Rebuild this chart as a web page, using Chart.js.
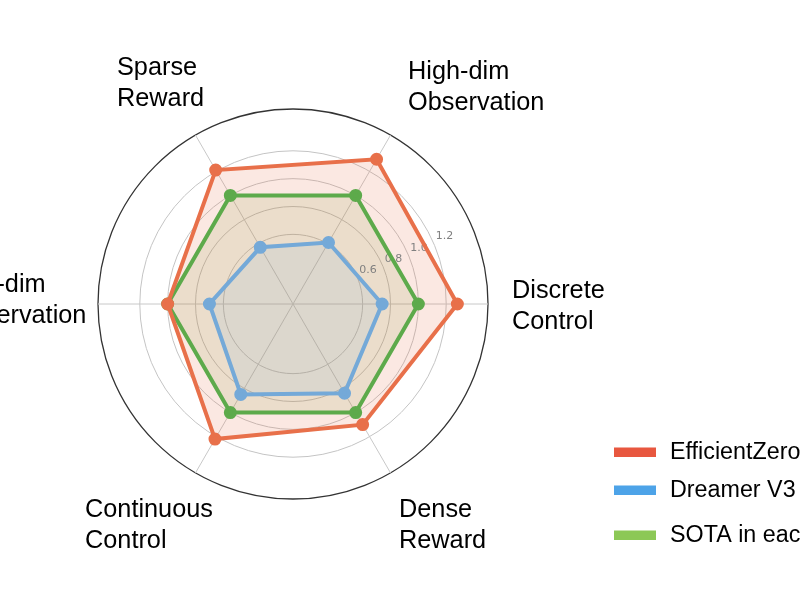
<!DOCTYPE html>
<html>
<head>
<meta charset="utf-8">
<script src="https://cdn.jsdelivr.net/npm/chart.js@4/dist/chart.umd.min.js"></script>
<style>
  html, body { margin: 0; padding: 0; background: #fff; }
  #wrap { width: 800px; height: 600px; position: relative; }
</style>
</head>
<body>
<div id="wrap"><canvas id="radar"></canvas></div>
<script>
// axes go clockwise from the right-hand side
const categories = [
  ['Discrete', 'Control'],
  ['Dense', 'Reward'],
  ['Continuous', 'Control'],
  ['Low-dim', 'Observation'],
  ['Sparse', 'Reward'],
  ['High-dim', 'Observation']
];
const efficientZeroValues = [1.28, 1.10, 1.22, 1.00, 1.21, 1.30];
const dreamerValues = [0.74, 0.84, 0.85, 0.70, 0.57, 0.61];
const sotaValues = [1.00, 1.00, 1.00, 1.00, 1.00, 1.00];
const tickValues = [0.6, 0.8, 1.0, 1.2];
const seriesNames = ['EfficientZero V2', 'Dreamer V3', 'SOTA in each domain'];

const SCALE_MIN = 0.1;
const SCALE_MAX = 1.5;

// label block placement relative to centre (left edge, vertical middle)
const labelSpots = [
  { dx: 219, dy: 3 },
  { dx: 106, dy: 222 },
  { dx: -208, dy: 222 },
  { dx: -343, dy: -3 },
  { dx: -176, dy: -220 },
  { dx: 115, dy: -216 }
];

const tickLabelsPlugin = {
  id: 'tickLabels',
  beforeDatasetsDraw(chart) {
    const scale = chart.scales.r;
    const ctx = chart.ctx;
    const ang = -24 * Math.PI / 180;
    ctx.save();
    ctx.font = '11px "DejaVu Sans", sans-serif';
    ctx.fillStyle = '#808080';
    ctx.textAlign = 'center';
    ctx.textBaseline = 'middle';
    tickValues.forEach(v => {
      const d = scale.getDistanceFromCenterForValue(v) + 12.5;
      ctx.fillText(v.toFixed(1), scale.xCenter + d * Math.cos(ang), scale.yCenter + d * Math.sin(ang));
    });
    ctx.restore();
  }
};

const axisLabelsPlugin = {
  id: 'axisLabels',
  afterDraw(chart) {
    const scale = chart.scales.r;
    const ctx = chart.ctx;
    const k = scale.drawingArea / 195;
    ctx.save();
    ctx.font = '25.3px "Liberation Sans", Arial, sans-serif';
    ctx.fillStyle = '#000';
    ctx.textAlign = 'left';
    ctx.textBaseline = 'middle';
    categories.forEach((lines, i) => {
      const x = scale.xCenter + labelSpots[i].dx * k;
      const y = scale.yCenter + labelSpots[i].dy * k;
      ctx.fillText(lines[0], x, y - 15.5);
      ctx.fillText(lines[1], x, y + 15.5);
    });

    // legend
    const legendColors = ['#E8573F', '#4DA3E8', '#8CC856'];
    const rows = [452, 490, 535];
    ctx.font = '23.3px "Liberation Sans", Arial, sans-serif';
    seriesNames.forEach((name, i) => {
      ctx.fillStyle = legendColors[i];
      ctx.fillRect(614, rows[i] - 4.5, 42, 9.5);
      ctx.fillStyle = '#000';
      ctx.fillText(name, 670, rows[i] + 1);
    });
    ctx.restore();
  }
};

new Chart(document.getElementById('radar'), {
  type: 'radar',
  data: {
    labels: categories,
    datasets: [
      {
        label: seriesNames[0],
        data: efficientZeroValues,
        borderColor: '#E8704A',
        backgroundColor: 'rgba(232, 112, 74, 0.16)',
        pointBackgroundColor: '#E8704A',
        pointBorderColor: '#E8704A',
        borderWidth: 4,
        pointRadius: 4.5,
        fill: true,
        order: 2
      },
      {
        label: seriesNames[1],
        data: dreamerValues,
        borderColor: '#74A9D8',
        backgroundColor: 'rgba(116, 169, 216, 0.13)',
        pointBackgroundColor: '#74A9D8',
        pointBorderColor: '#74A9D8',
        borderWidth: 4,
        pointRadius: 4.5,
        fill: true,
        order: 1
      },
      {
        label: seriesNames[2],
        data: sotaValues,
        borderColor: '#5DAA4B',
        backgroundColor: 'rgba(120, 160, 70, 0.15)',
        pointBackgroundColor: '#5DAA4B',
        pointBorderColor: '#5DAA4B',
        borderWidth: 4,
        pointRadius: 4.5,
        fill: true,
        order: 3
      }
    ]
  },
  options: {
    responsive: true,
    maintainAspectRatio: false,
    animation: false,
    layout: { padding: { left: 98, right: 312, top: 109, bottom: 101 } },
    elements: { line: { tension: 0 } },
    plugins: {
      legend: { display: false },
      tooltip: { enabled: false },
      filler: { drawTime: 'beforeDatasetsDraw' }
    },
    scales: {
      r: {
        startAngle: 90,
        min: SCALE_MIN,
        max: SCALE_MAX,
        afterBuildTicks(scale) {
          scale.ticks = [SCALE_MIN].concat(tickValues, [SCALE_MAX]).map(v => ({ value: v }));
        },
        ticks: { display: false },
        pointLabels: { display: false },
        angleLines: { color: '#c8c8c8', lineWidth: 1 },
        grid: {
          circular: true,
          color: ctx => ctx.tick && ctx.tick.value === SCALE_MAX ? '#333333' : '#c4c4c4',
          lineWidth: ctx => ctx.tick && ctx.tick.value === SCALE_MAX ? 1.3 : 1
        }
      }
    }
  },
  plugins: [tickLabelsPlugin, axisLabelsPlugin]
});
</script>
</body>
</html>
